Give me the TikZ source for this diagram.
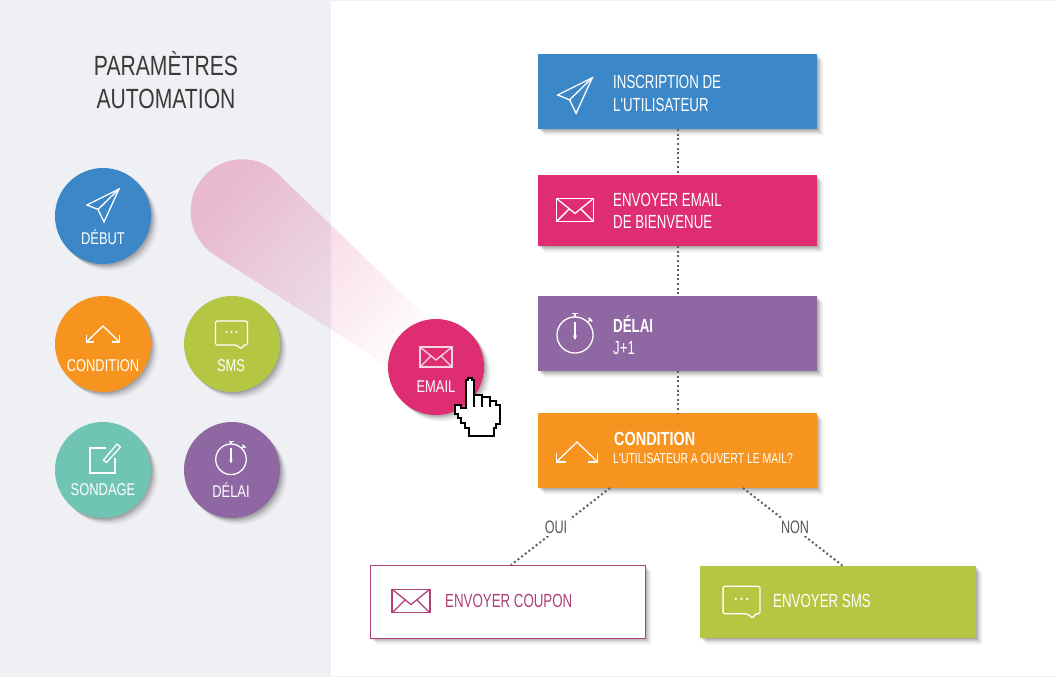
\documentclass[tikz,border=0pt]{standalone}
\usepackage{fontspec}
\setmainfont{Liberation Sans}
\newfontfamily\cond[FakeStretch=0.76]{Liberation Sans}
\newfontfamily\condn[FakeStretch=0.70]{Liberation Sans}
\newfontfamily\condm[FakeStretch=0.72]{Liberation Sans}
\usetikzlibrary{shadows,fadings}
\definecolor{cblue}{HTML}{3C87C8}
\definecolor{cpink}{HTML}{DE2D72}
\definecolor{cpurple}{HTML}{8F67A2}
\definecolor{corange}{HTML}{F79420}
\definecolor{cgreen}{HTML}{B5C643}
\definecolor{cteal}{HTML}{6FC4B3}
\definecolor{cpanel}{HTML}{EEF0F3}
\definecolor{ccoupon}{HTML}{AE3F78}
\definecolor{cline}{HTML}{5F5F5F}
\definecolor{ctext}{HTML}{3A3A3A}
\tikzfading[name=beamfade,left color=transparent!72,right color=transparent!97]
\tikzset{
  softshadow/.style={
    general shadow={fill=black,opacity=.025,shadow xshift=7pt,shadow yshift=-7pt},
    general shadow={fill=black,opacity=.03,shadow xshift=6pt,shadow yshift=-6pt},
    general shadow={fill=black,opacity=.04,shadow xshift=5pt,shadow yshift=-5pt},
    general shadow={fill=black,opacity=.05,shadow xshift=4pt,shadow yshift=-4pt},
    general shadow={fill=black,opacity=.07,shadow xshift=3pt,shadow yshift=-3pt},
    general shadow={fill=black,opacity=.08,shadow xshift=2pt,shadow yshift=-2pt},
    general shadow={fill=black,opacity=.08,shadow xshift=1pt,shadow yshift=-1pt}},
  disc/.style={circle,minimum size=96pt,inner sep=0pt,fill=#1,softshadow},
  rowbox/.style={rectangle,minimum width=279pt,inner sep=0pt,fill=#1,softshadow},
  disctext/.style={font=\cond\fontsize{17}{20}\selectfont,text=white,inner sep=0pt},
  boxtext/.style={font=\condn\fontsize{19}{22.5}\selectfont,text=white,align=left,anchor=west,inner sep=0pt},
  flow/.style={draw=cline,line width=2pt,dash pattern=on 2pt off 2.6pt},
  branchlabel/.style={font=\condn\fontsize{18}{20}\selectfont,text=ctext!85,fill=white,inner sep=2.5pt},
  ic/.style={line width=1.3pt,line join=miter},
  paper/.pic={
    \draw[ic] (16,-16) -- (-16,0) -- (-5,4.5) -- (1,17) -- cycle;
    \draw[ic] (16,-16) -- (-5,4.5);},
  envelope/.pic={
    \draw[ic] (-16,-10) rectangle (16,10);
    \draw[ic] (-16,-10) -- (0,3) -- (16,-10);
    \draw[ic] (-16,10) -- (-5,-1);
    \draw[ic] (16,10) -- (5,-1);},
  bubble/.pic={
    \draw[ic,rounded corners=1.5pt] (-16,-12) -- (16,-12) -- (16,12) -- (12,12) -- (10,16) -- (5,12) -- (-16,12) -- cycle;
    \fill (-5,-1) circle (1.1pt) (0,-1) circle (1.1pt) (5,-1) circle (1.1pt);},
  branch/.pic={
    \draw[ic] (-16.5,0) -- (0,-16) -- (16.5,0);
    \draw[ic] (-16.5,-7.5) -- (-16.5,0) -- (-9,0);
    \draw[ic] (16.5,-7.5) -- (16.5,0) -- (9,0);},
  watch/.pic={
    \draw[ic] (0,0) circle (15.3);
    \draw[ic] (0,-15.3) -- (0,-18);
    \draw[ic] (-2.5,-18) -- (2.5,-18);
    \draw[ic] (11,-11) -- (13.5,-13.5);
    \fill (12,-15) -- (15,-12) -- (14,-11) -- (11,-14) -- cycle;
    \draw[ic] (0,-11) -- (0,3);
    \fill (0,-2) -- (1.5,1) -- (0,4) -- (-1.5,1) -- cycle;},
  note/.pic={
    \draw[ic] (3,-12.5) -- (-12.5,-12.5) -- (-12.5,12.5) -- (12.5,12.5) -- (12.5,-3);
    \draw[ic] (1,-0.5) -- (14.5,-16.5) -- (18,-13.5) -- (4,2) -- cycle;}
}
\begin{document}
\begin{tikzpicture}[x=1pt,y=-1pt]
\useasboundingbox (0,0) rectangle (1055,677);
\fill[white] (0,0) rectangle (1055,677);
\fill[cpanel] (0,0) rectangle (331,677);
\draw[cpanel,line width=1pt] (0,0.5) -- (1055,0.5) (0,676.5) -- (1055,676.5);
% beam
\fill[cpink,path fading=beamfade,fit fading=true,fading angle=-38]
  (279,174) .. controls (268.8,164.3) and (257.1,159) .. (243,159)
  .. controls (214.3,159) and (191,182.3) .. (191,211)
  .. controls (191,228.8) and (200,245.4) .. (215,255)
  -- (390,367) -- (428,318) -- cycle;
% title
\node[font=\cond\fontsize{27.8}{33}\selectfont,text=ctext,align=center,inner sep=0pt] (title) at (166,80) {PARAMÈTRES\\AUTOMATION};
% flow boxes
\node[rowbox=cblue,minimum height=75pt] (inscr) at (677.5,91.5) {};
\node[rowbox=cpink,minimum height=71pt] (bienv) at (677.5,210.5) {};
\node[rowbox=cpurple,minimum height=75pt] (delay) at (677.5,333.5) {};
\node[rowbox=corange,minimum height=75pt] (condb) at (677.5,450.5) {};
\node[rectangle,minimum width=275pt,minimum height=73pt,inner sep=0pt,fill=white,draw=ccoupon,line width=1pt,softshadow] (coupon) at (507.5,601.5) {};
\node[rectangle,minimum width=276pt,minimum height=72pt,inner sep=0pt,fill=cgreen,softshadow] (smsb) at (838,602) {};
% connectors
\draw[flow] (inscr) -- (bienv);
\draw[flow] (bienv) -- (delay);
\draw[flow] (delay) -- (condb);
\coordinate (ouia) at (610,488);
\coordinate (ouib) at (511,565);
\coordinate (nona) at (743,488);
\coordinate (nonb) at (843,566);
\draw[flow] (ouia) -- (ouib);
\draw[flow] (nona) -- (nonb);
\node[branchlabel] (oui) at (556,527) {OUI};
\node[branchlabel] (non) at (795,527) {NON};
% discs
\node[disc=cblue] (d1) at (103,216) {};
\node[disc=corange] (d2) at (103,344) {};
\node[disc=cgreen] (d3) at (232,344) {};
\node[disc=cteal] (d4) at (103,470) {};
\node[disc=cpurple] (d5) at (232,470) {};
\node[disc=cpink] (d6) at (436,367) {};
\pic[color=white] at (103,205) {paper};
\pic[color=white] at (103,342) {branch};
\pic[color=white] at (231.5,333) {bubble};
\pic[color=white] at (102.5,460.5) {note};
\pic[color=white] at (231,459.3) {watch};
\pic[color=white!80!cpink] at (436,357) {envelope};
\node[disctext] (t1) at (103,237) {DÉBUT};
\node[disctext] (t2) at (103,366) {CONDITION};
\node[disctext] (t3) at (231,366) {SMS};
\node[disctext] (t4) at (103,490) {SONDAGE};
\node[disctext] (t5) at (231,490) {DÉLAI};
\node[disctext] (t6) at (436,387) {EMAIL};
% box icons and texts
\pic[color=white,scale=1.08] at (575,95) {paper};
\pic[color=white,scale=1.15] at (575,210) {envelope};
\pic[color=white,scale=1.18] at (575,335) {watch};
\pic[color=white,scale=1.25] at (577,462) {branch};
\pic[color=ccoupon,scale=1.18] at (411,601) {envelope};
\pic[color=white,scale=1.15] at (741.5,600) {bubble};
\node[boxtext] (l1) at (613,93.5) {INSCRIPTION DE\\L'UTILISATEUR};
\node[boxtext] (l2) at (613,211) {ENVOYER EMAIL\\DE BIENVENUE};
\node[boxtext] (l3) at (613,335) {\textbf{DÉLAI}\\J+1};
\node[boxtext,anchor=base west,font=\cond\bfseries\fontsize{19}{22}\selectfont] (l4) at (614,445) {CONDITION};
\node[boxtext,anchor=base west,font=\condm\fontsize{14.5}{16}\selectfont] (l5) at (613,463) {L'UTILISATEUR A OUVERT LE MAIL?};
\node[boxtext,text=ccoupon] (l6) at (445,601) {ENVOYER COUPON};
\node[boxtext] (l7) at (773,601) {ENVOYER SMS};
% hand cursor
\draw[fill=white,draw=black,line width=2pt,line join=miter]
 (466,380) -- (468,380) -- (468,378) -- (472,378) -- (472,380) -- (474,380) -- (474,395)
 -- (482,395) -- (482,397) -- (490,397) -- (490,401) -- (496,401) -- (496,405) -- (500,405)
 -- (500,424) -- (496,424) -- (496,428) -- (494,428) -- (494,436) -- (469,436) -- (469,428)
 -- (465,428) -- (465,423) -- (461,423) -- (461,418) -- (458,418) -- (458,414) -- (455,414)
 -- (455,405) -- (461,405) -- (461,408) -- (466,408) -- cycle;
\draw[black,line width=1.4pt] (482,397) -- (482,407) (490,401) -- (490,407) (474,395) -- (474,407);
\end{tikzpicture}
\end{document}
